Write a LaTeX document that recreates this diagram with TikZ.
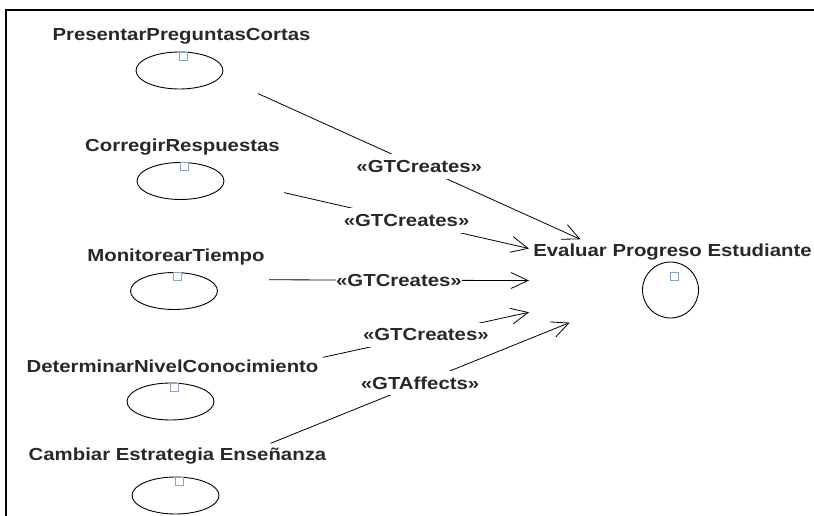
\documentclass[tikz,border=0pt]{standalone}
\usepackage{fontspec}
\newfontfamily\umlfont[FakeStretch=1.17]{Liberation Sans}
\usetikzlibrary{positioning, arrows.meta, shapes.geometric, fit}
\definecolor{iconblue}{RGB}{138,164,200}
\definecolor{inkgray}{RGB}{40,40,40}
\tikzset{arr/.style={draw, line width=0.8pt, -{Straight Barb[length=17pt, width=16pt]}}}

\begin{document}
\begin{tikzpicture}[
      x=1pt, y=-1pt,
      every node/.style={font=\umlfont\bfseries\fontsize{17.4}{20}\selectfont, text=inkgray},
      usecase/.style={draw, ellipse, line width=0.9pt, minimum width=87pt, minimum height=37pt, inner sep=0pt},
      goal/.style={draw, circle, line width=0.9pt, minimum size=56pt, inner sep=0pt},
      ucname/.style={inner sep=0pt, text depth=0pt, xshift=2pt},
      icon/.style={draw=iconblue, fill=white, line width=0.6pt, minimum size=8pt, inner sep=0pt},
      group/.style={inner sep=4pt},
      stereo/.style={fill=white, inner xsep=0.5pt, inner ysep=6pt},
  ]
      \useasboundingbox (0,0) rectangle (814,516);
      \draw[line width=2pt] (814,10) -| (6,516);

      % Left column: use cases (ellipses)
      \node[usecase] (pres) at (179.5,70.5) {};
      \node[usecase] (corr) at (180.5,181) {};
      \node[usecase] (moni) at (174,291) {};
      \node[usecase] (deter) at (170.5,401.5) {};
      \node[usecase] (camb) at (175.5,495.5) {};

      % Right: goal (circle)
      \node[goal] (eval) at (670.5,290) {};

      % Names above the shapes
      \node[ucname, above=10.5pt of pres] (preslbl) {PresentarPreguntasCortas};
      \node[ucname, above=10pt of corr] (corrlbl) {CorregirRespuestas};
      \node[ucname, above=10pt of moni] (monilbl) {MonitorearTiempo};
      \node[ucname, above=10pt of deter] (deterlbl) {DeterminarNivelConocimiento};
      \node[ucname, above=16pt of camb] (camblbl) {Cambiar Estrategia Enseñanza};
      \node[ucname, above=5pt of eval] (evallbl) {Evaluar Progreso Estudiante};

      % Small icons
      \node[icon] (presic) at ([shift={(3.5,4.5)}]pres.north) {};
      \node[icon] (corric) at ([shift={(3.5,4.5)}]corr.north) {};
      \node[icon] (moniic) at ([shift={(3.5,4.5)}]moni.north) {};
      \node[icon] (deteric) at ([shift={(3.5,4.5)}]deter.north) {};
      \node[icon] (cambic) at ([shift={(3.5,4.5)}]camb.north) {};
      \node[icon] (evalic) at ([shift={(3.5,15)}]eval.north) {};

      % Boxes round name + shape, for the connector ends
      \node[group, fit=(preslbl)(pres)] (presbox) {};
      \node[group, fit=(corrlbl)(corr)] (corrbox) {};
      \node[group, fit=(monilbl)(moni)] (monibox) {};
      \node[group, fit=(deterlbl)(deter)] (deterbox) {};
      \node[group, fit=(camblbl)(camb)] (cambbox) {};
      \node[group, fit=(evallbl)(eval)] (evalbox) {};

      % Connectors to Evaluar Progreso Estudiante
      \draw[arr] (presbox) -- node[stereo] {«GTCreates»} (evalbox);
      \draw[arr] (corrbox) -- node[stereo] {«GTCreates»} (evalbox);
      \draw[arr] (monibox) -- node[stereo] {«GTCreates»} (evalbox);
      \draw[arr] (deterbox) -- node[stereo] {«GTCreates»} (evalbox);
      \draw[arr] (cambbox) -- node[stereo] {«GTAffects»} (evalbox);

\end{tikzpicture}
\end{document}
